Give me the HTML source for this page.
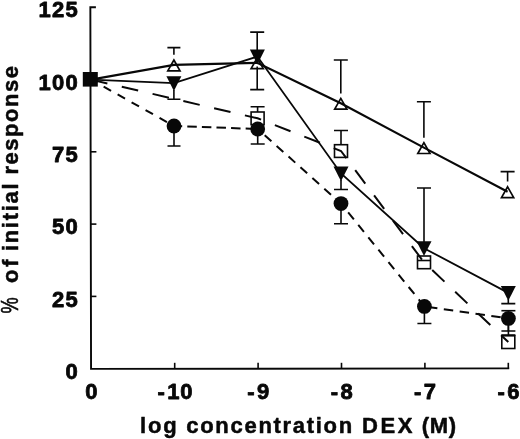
<!DOCTYPE html>
<html lang="en"><head><meta charset="utf-8"><title>DEX concentration response</title>
<style>html,body{margin:0;padding:0;background:#fff}body{width:520px;height:439px;overflow:hidden}svg{display:block}text{font-family:"Liberation Sans",Arial,Helvetica,sans-serif;font-weight:bold;fill:#080808;stroke:#080808;stroke-width:0.5px;stroke-linejoin:round}.tk{stroke-width:0.8px}.pc{font-weight:normal;stroke-width:0.6px}</style>
</head><body>
<svg width="520" height="439" viewBox="0 0 520 439">
<rect width="520" height="439" fill="#fff"/>
<g stroke="#080808" stroke-width="1.9" fill="none" stroke-linecap="butt">
<path d="M95.9,7.2 H90.35 L91.05,368.9 L509.2,368.4" stroke-linejoin="miter"/>
<path d="M90.49,79.5 H96.4" stroke-width="1.6"/>
<path d="M90.63,151.8 H96.4" stroke-width="1.6"/>
<path d="M90.77,224.1 H96.4" stroke-width="1.6"/>
<path d="M90.91,296.4 H96.4" stroke-width="1.6"/>
<path d="M174.7,368.7 V362.8" stroke-width="1.6"/>
<path d="M258.1,368.7 V362.8" stroke-width="1.6"/>
<path d="M341.5,368.7 V362.8" stroke-width="1.6"/>
<path d="M424.9,368.7 V362.8" stroke-width="1.6"/>
<path d="M508.3,368.7 V362.8" stroke-width="1.6"/>
</g>
<text x="79.1" y="17.3" font-size="22" text-anchor="end" letter-spacing="1.3" class="tk">125</text>
<text x="79.1" y="89.6" font-size="22" text-anchor="end" letter-spacing="1.3" class="tk">100</text>
<text x="79.1" y="161.9" font-size="22" text-anchor="end" letter-spacing="1.3" class="tk">75</text>
<text x="79.1" y="234.2" font-size="22" text-anchor="end" letter-spacing="1.3" class="tk">50</text>
<text x="79.1" y="306.5" font-size="22" text-anchor="end" letter-spacing="1.3" class="tk">25</text>
<text x="79.1" y="378.8" font-size="22" text-anchor="end" letter-spacing="1.3" class="tk">0</text>
<text x="91.7" y="399.2" font-size="22" text-anchor="middle" letter-spacing="0.8" class="tk">0</text>
<text x="175.3" y="399.2" font-size="22" text-anchor="middle" letter-spacing="0.8" class="tk">-<tspan dx="1.6">10</tspan></text>
<text x="258.7" y="399.2" font-size="22" text-anchor="middle" letter-spacing="0.8" class="tk">-<tspan dx="1.6">9</tspan></text>
<text x="342.1" y="399.2" font-size="22" text-anchor="middle" letter-spacing="0.8" class="tk">-<tspan dx="1.6">8</tspan></text>
<text x="425.5" y="399.2" font-size="22" text-anchor="middle" letter-spacing="0.8" class="tk">-<tspan dx="1.6">7</tspan></text>
<text x="508.9" y="399.2" font-size="22" text-anchor="middle" letter-spacing="0.8" class="tk">-<tspan dx="1.6">6</tspan></text>
<text y="433.4" font-size="22"><tspan x="140.1" letter-spacing="1.8">log</tspan> <tspan x="186.3" letter-spacing="1.7">concentration</tspan> <tspan x="361.9" letter-spacing="2.7">DEX</tspan> <tspan x="421.7" letter-spacing="0.7">(M)</tspan></text>
<text transform="translate(18.2,313.5) rotate(-90) scale(0.76,1)" font-size="24" class="pc">%</text>
<text transform="translate(18.1,314.5) rotate(-90)" font-size="22"><tspan x="31.5" letter-spacing="2.7">of</tspan> <tspan x="63.4" letter-spacing="1.7">initial</tspan> <tspan x="139.9" letter-spacing="1.55">response</tspan></text>
<g fill="#fff" stroke="#080808" stroke-width="1.6">
<rect x="251.1" y="112.0" width="13" height="12.7"/>
<rect x="334.5" y="144.7" width="13" height="12.7"/>
<rect x="417.5" y="256.0" width="13" height="12.7"/>
<rect x="501.8" y="335.8" width="13" height="12.7"/>
</g>
<g fill="#fff" stroke="#080808" stroke-width="1.7" stroke-linejoin="miter">
<path d="M173.9,60.0 L180.0,70.8 H167.8 Z"/>
<path d="M257.2,57.9 L263.3,68.7 H251.1 Z"/>
<path d="M340.8,98.4 L346.9,109.2 H334.7 Z"/>
<path d="M423.9,142.7 L430.0,153.5 H417.8 Z"/>
<path d="M507.6,186.8 L513.7,197.6 H501.5 Z"/>
</g>
<g stroke="#080808" stroke-width="1.6" fill="none">
<path d="M173.9,54.7 V47.6 M167.4,47.6 H180.4"/>
<path d="M173.9,90.0 V99.3 M167.4,99.3 H180.4"/>
<path d="M174.0,133.0 V146.0 M167.5,146.0 H180.5"/>
<path d="M257.2,50.0 V32.1 M250.2,32.1 H264.2"/>
<path d="M257.2,66.5 V89.6 M250.2,89.6 H264.2"/>
<path d="M257.6,112.0 V106.8 M250.6,106.8 H264.6"/>
<path d="M257.7,136.0 V144.0 M250.7,144.0 H264.7"/>
<path d="M340.8,93.5 V60.0 M333.8,60.0 H347.8"/>
<path d="M341.0,144.5 V130.5 M334.0,130.5 H348.0"/>
<path d="M341.0,180.0 V189.5 M334.0,189.5 H348.0"/>
<path d="M341.0,210.0 V223.7 M334.0,223.7 H348.0"/>
<path d="M423.9,137.8 V101.7 M416.9,101.7 H430.9"/>
<path d="M424.0,242.0 V188.0 M417.0,188.0 H431.0"/>
<path d="M417.0,260.5 H431.0"/>
<path d="M424.4,313.0 V323.5 M417.4,323.5 H431.4"/>
<path d="M507.6,181.5 V171.6 M500.6,171.6 H514.6"/>
<path d="M508.3,299.0 V303.6 M501.3,303.6 H515.3"/>
<path d="M501.4,310.7 H515.4"/>
<path d="M501.4,335.0 H515.4"/>
<path d="M508.4,324.0 V331.0 M501.4,331.0 H515.4"/>
<path d="M508.4,324 V335.5"/>
</g>
<path d="M91.0,79.6 L174.0,126.0" fill="none" stroke="#080808" stroke-width="2" stroke-dasharray="8.5 7.5" stroke-dashoffset="1.5"/>
<path d="M174.0,126.0 L257.7,129.0" fill="none" stroke="#080808" stroke-width="2" stroke-dasharray="9.5 5.1" stroke-dashoffset="1.3"/>
<path d="M257.7,129.0 L341.0,203.6" fill="none" stroke="#080808" stroke-width="2" stroke-dasharray="9 7" stroke-dashoffset="6.6"/>
<path d="M341.0,203.6 L424.4,306.4" fill="none" stroke="#080808" stroke-width="2" stroke-dasharray="9 7" stroke-dashoffset="4.6"/>
<path d="M424.4,306.4 L508.4,318.4" fill="none" stroke="#080808" stroke-width="2" stroke-dasharray="9.5 6.5" stroke-dashoffset="12.4"/>
<polyline points="91.0,79.6 257.6,118.3 341.0,151.0 424.0,262.3 508.3,342.1" fill="none" stroke="#080808" stroke-width="2" stroke-dasharray="16.8 14.8"/>
<polyline points="91.0,79.6 173.9,83.2 257.4,56.6 341.0,173.5 424.0,248.2 508.3,292.9" fill="none" stroke="#080808" stroke-width="1.8"/>
<polyline points="91.0,79.6 173.9,64.9 257.2,62.8 340.8,103.3 423.9,147.6 507.6,191.7" fill="none" stroke="#080808" stroke-width="2.2"/>
<circle cx="174.0" cy="126.0" r="7.4" fill="#080808"/>
<circle cx="257.7" cy="129.0" r="7.4" fill="#080808"/>
<circle cx="341.0" cy="203.6" r="7.4" fill="#080808"/>
<circle cx="424.4" cy="306.4" r="7.4" fill="#080808"/>
<circle cx="508.4" cy="318.4" r="7.4" fill="#080808"/>
<path d="M166.4,76.2 H181.4 L173.9,91.0 Z" fill="#080808"/>
<path d="M249.9,49.6 H264.9 L257.4,64.4 Z" fill="#080808"/>
<path d="M333.5,166.5 H348.5 L341.0,181.3 Z" fill="#080808"/>
<path d="M416.5,241.2 H431.5 L424.0,256.0 Z" fill="#080808"/>
<path d="M500.8,285.9 H515.8 L508.3,300.7 Z" fill="#080808"/>
<rect x="82.8" y="72" width="15" height="14.6" fill="#080808"/>
</svg>
</body></html>
